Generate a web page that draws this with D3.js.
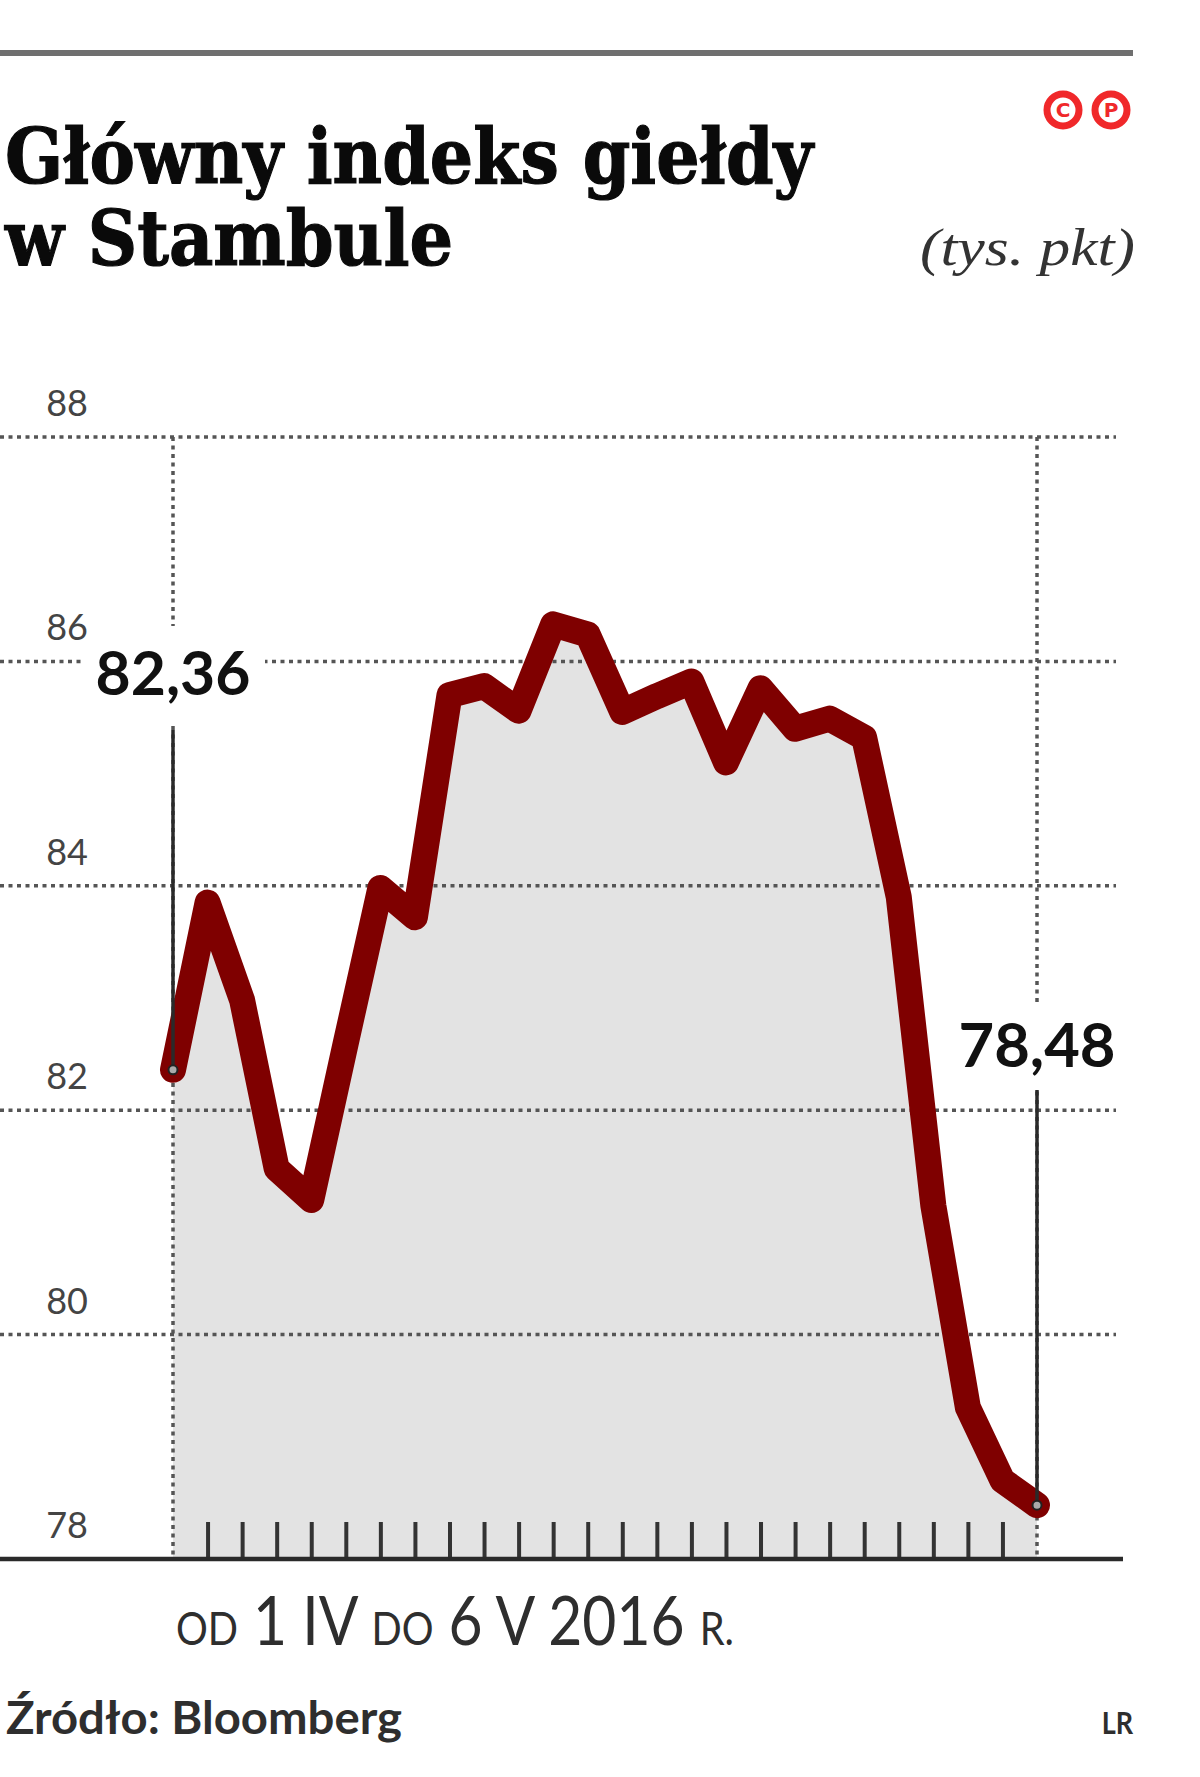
<!DOCTYPE html>
<html>
<head>
<meta charset="utf-8">
<script src="https://cdn.jsdelivr.net/npm/d3@7"></script>
<style>
  html, body { margin: 0; padding: 0; background: #fff; }
  svg { display: block; }
</style>
</head>
<body>
<svg id="chart" width="1200" height="1777"></svg>
<script>
// ---------- DATA ----------
const dates = [
  "2016-04-01",
  "2016-04-04", "2016-04-05", "2016-04-06", "2016-04-07", "2016-04-08",
  "2016-04-11", "2016-04-12", "2016-04-13", "2016-04-14", "2016-04-15",
  "2016-04-18", "2016-04-19", "2016-04-20", "2016-04-21", "2016-04-22",
  "2016-04-25", "2016-04-26", "2016-04-27", "2016-04-28", "2016-04-29",
  "2016-05-02", "2016-05-03", "2016-05-04", "2016-05-05", "2016-05-06"
];
const values = [
  82.36,
  83.85, 82.98, 81.48, 81.20, 82.60,
  83.98, 83.72, 85.70, 85.78, 85.56,
  86.33, 86.24, 85.55, 85.69, 85.82,
  85.10, 85.76, 85.40, 85.49, 85.32,
  83.90, 81.15, 79.35, 78.70, 78.48
];
const yTicks = [78, 80, 82, 84, 86, 88];
const firstLabel = "82,36";
const lastLabel = "78,48";
const titleLines = ["Główny indeks giełdy", "w Stambule"];
const unitLabel = "(tys. pkt)";
const periodParts = [
  { text: "OD", small: true },
  { text: " 1 IV ", small: false },
  { text: "DO", small: true },
  { text: " 6 V 2016 ", small: false },
  { text: "R.", small: true }
];
const sourceText = "Źródło: Bloomberg";
const creditText = "LR";

// ---------- SETUP ----------
const svg = d3.select("#chart");
const data = dates.map((d, i) => ({ date: d, value: values[i] }));

const x = d3.scalePoint().domain(dates).range([173, 1037]);
const y = d3.scaleLinear().domain([78, 88]).range([1559, 437]);

const RED = "#7f0000";
const GRID = "#555";

// helper: place text horizontally scaled to a target width
function fitText(sel, px, py, targetW, anchor) {
  sel.attr("text-anchor", anchor).attr("x", 0).attr("y", 0);
  const w = sel.node().getBBox().width;
  const k = targetW / w;
  sel.attr("transform", `translate(${px},${py}) scale(${k},1)`);
  return sel;
}

// ---------- HEADER ----------
svg.append("line")
  .attr("x1", 0).attr("x2", 1133).attr("y1", 53).attr("y2", 53)
  .attr("stroke", "#6f6f6f").attr("stroke-width", 6);

const t1 = svg.append("text").text(titleLines[0])
  .attr("font-family", "DejaVu Serif").attr("font-weight", "bold")
  .attr("font-size", 76).attr("fill", "#0a0a0a")
  .attr("stroke", "#0a0a0a").attr("stroke-width", 1.2);
fitText(t1, 5, 183, 810, "start");
const t2 = svg.append("text").text(titleLines[1])
  .attr("font-family", "DejaVu Serif").attr("font-weight", "bold")
  .attr("font-size", 76).attr("fill", "#0a0a0a")
  .attr("stroke", "#0a0a0a").attr("stroke-width", 1.2);
fitText(t2, 5, 265, 449, "start");

const u = svg.append("text").text(unitLabel)
  .attr("font-family", "Liberation Serif").attr("font-style", "italic")
  .attr("font-size", 52).attr("fill", "#333");
fitText(u, 1135, 265, 215, "end");

// logo
const logo = svg.append("g");
[{ cx: 1063, l: "C" }, { cx: 1111, l: "P" }].forEach(o => {
  logo.append("circle").attr("cx", o.cx).attr("cy", 110).attr("r", 16)
    .attr("fill", "none").attr("stroke", "#f0282a").attr("stroke-width", 7);
  logo.append("text").attr("x", o.cx).attr("y", 117).attr("text-anchor", "middle")
    .attr("font-family", "DejaVu Sans").attr("font-weight", "bold")
    .attr("font-size", 20).attr("fill", "#f0282a").text(o.l);
});

// ---------- CHART ----------
// area
const area = d3.area()
  .x(d => x(d.date)).y0(y(78)).y1(d => y(d.value));
svg.append("path").datum(data).attr("d", area).attr("fill", "#e3e3e3");

// horizontal dotted gridlines
svg.append("g").selectAll("line")
  .data(yTicks.filter(v => v > 78))
  .join("line")
  .attr("x1", 0).attr("x2", 1116)
  .attr("y1", d => y(d)).attr("y2", d => y(d))
  .attr("stroke", GRID).attr("stroke-width", 3.5)
  .attr("stroke-dasharray", "4,4.5");

// vertical dotted lines at first and last date (full height)
const firstD = dates[0], lastD = dates[dates.length - 1];
svg.append("g").selectAll("line")
  .data([firstD, lastD])
  .join("line")
  .attr("x1", d => x(d)).attr("x2", d => x(d))
  .attr("y1", y(88)).attr("y2", y(78))
  .attr("stroke", GRID).attr("stroke-width", 3.5)
  .attr("stroke-dasharray", "4,4.5");

// bottom ticks (one per session)
const xAxis = d3.axisBottom(x)
  .tickValues(dates.slice(1, -1))
  .tickSize(-37)
  .tickFormat("");
const ax = svg.append("g").attr("transform", `translate(0,${y(78)})`).call(xAxis);
ax.select(".domain").remove();
ax.selectAll(".tick line").attr("stroke", "#333").attr("stroke-width", 4);

// x axis baseline
svg.append("line")
  .attr("x1", 0).attr("x2", 1123).attr("y1", y(78)).attr("y2", y(78))
  .attr("stroke", "#2a2a2a").attr("stroke-width", 4.5);

// labels for first / last values
const lab1 = svg.append("text").text(firstLabel)
  .attr("font-family", "Lato").attr("font-weight", "bold")
  .attr("font-size", 62).attr("fill", "#111");
fitText(lab1, x(firstD), 695, 155, "middle");
const lab2 = svg.append("text").text(lastLabel)
  .attr("font-family", "Lato").attr("font-weight", "bold")
  .attr("font-size", 62).attr("fill", "#111");
fitText(lab2, x(lastD), 1067, 157, "middle");

// white masks behind labels (cover gridline / dotted vertical)
svg.insert("rect", () => lab1.node())
  .attr("x", x(firstD) - 92).attr("y", 626)
  .attr("width", 184).attr("height", 100).attr("fill", "#fff");
svg.insert("rect", () => lab2.node())
  .attr("x", x(lastD) - 90).attr("y", 1002)
  .attr("width", 180).attr("height", 86).attr("fill", "#fff");

// y tick labels
svg.append("g").selectAll("text")
  .data(yTicks)
  .join("text")
  .attr("x", 88).attr("y", d => y(d) - 21)
  .attr("text-anchor", "end")
  .attr("font-family", "Lato").attr("font-size", 36)
  .attr("fill", "#444")
  .text(d => d);

// red line
const line = d3.line().x(d => x(d.date)).y(d => y(d.value));
svg.append("path").datum(data).attr("d", line)
  .attr("fill", "none").attr("stroke", RED).attr("stroke-width", 26)
  .attr("stroke-linejoin", "round").attr("stroke-linecap", "round");

// solid connectors from labels to points
svg.append("line")
  .attr("x1", x(firstD)).attr("x2", x(firstD))
  .attr("y1", 730).attr("y2", y(values[0]))
  .attr("stroke", "#2a2a2a").attr("stroke-width", 3.5);
svg.append("line")
  .attr("x1", x(lastD)).attr("x2", x(lastD))
  .attr("y1", 1090).attr("y2", y(values[values.length - 1]))
  .attr("stroke", "#2a2a2a").attr("stroke-width", 3.5);

// endpoint markers
svg.append("g").selectAll("circle")
  .data([data[0], data[data.length - 1]])
  .join("circle")
  .attr("cx", d => x(d.date)).attr("cy", d => y(d.value))
  .attr("r", 4.5).attr("fill", "#aaa").attr("stroke", "#222").attr("stroke-width", 2);

// ---------- FOOTER ----------
const per = svg.append("text")
  .attr("font-family", "Lato").attr("fill", "#2e2e2e");
periodParts.forEach(p => {
  per.append("tspan").text(p.text)
    .attr("font-size", p.small ? 46 : 68);
});
per.style("white-space", "pre");
fitText(per, 176, 1645, 558, "start");

const src = svg.append("text").text(sourceText)
  .attr("font-family", "Lato").attr("font-weight", "bold")
  .attr("font-size", 46).attr("fill", "#2e2e2e");
fitText(src, 6, 1734, 396, "start");

const cr = svg.append("text").text(creditText)
  .attr("font-family", "Lato").attr("font-weight", "bold")
  .attr("font-size", 30).attr("fill", "#2e2e2e");
fitText(cr, 1133, 1734, 32, "end");
</script>
</body>
</html>
